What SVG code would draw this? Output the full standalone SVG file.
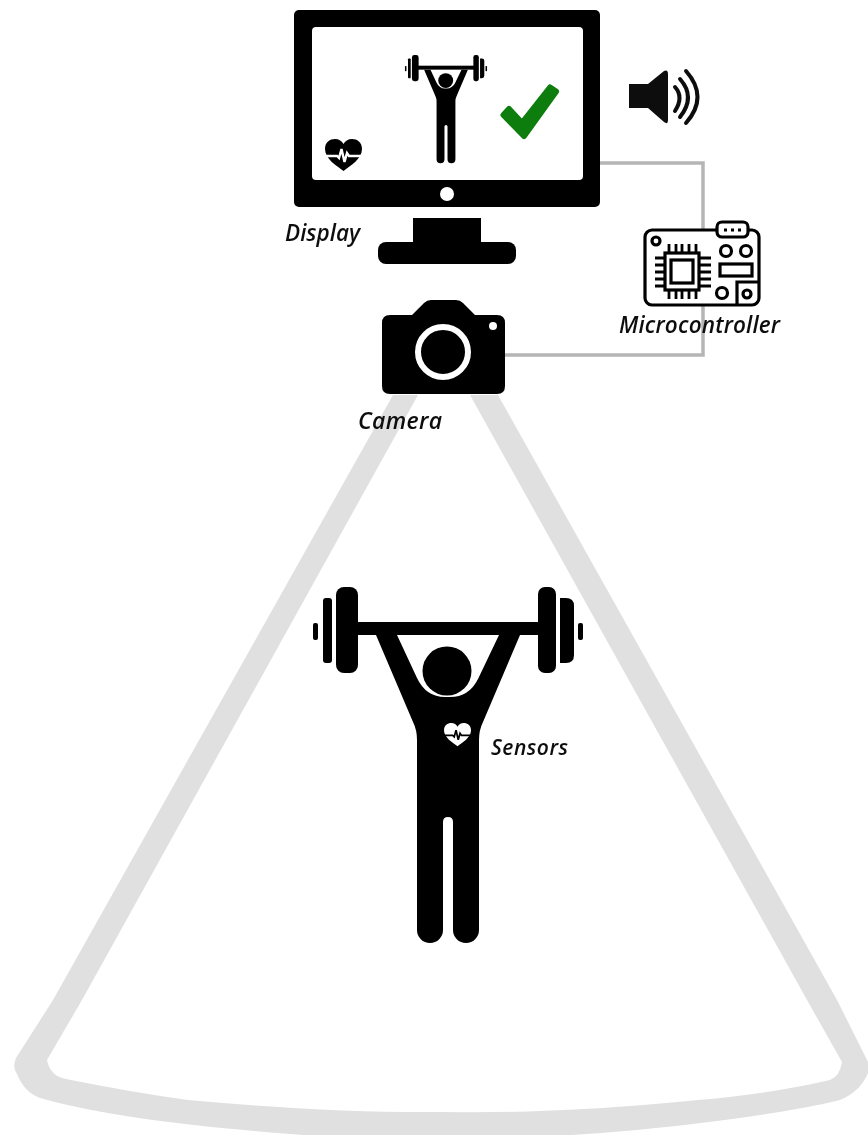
<svg xmlns="http://www.w3.org/2000/svg" xmlns:xlink="http://www.w3.org/1999/xlink" width="868" height="1135" viewBox="0 0 868 1135">
<style>
.k{fill:#000}
.w{fill:#fff}
.lbl{font-family:"Open Sans","Lato","Liberation Sans",sans-serif;font-style:italic;font-weight:600;fill:#111}
.conn{fill:none;stroke:#b5b5b5;stroke-width:3.5}
.pcb{fill:none;stroke:#000;stroke-width:3.2}
.pin{fill:none;stroke:#000;stroke-width:2.8}
.arc{fill:none;stroke:#111;stroke-width:4;stroke-linecap:round}
</style>
<defs>
<filter id="soft" x="0" y="0" width="868" height="1135" filterUnits="userSpaceOnUse"><feGaussianBlur stdDeviation="0.7"/></filter>
<g id="lifter">
<rect class="k" x="336" y="587" width="22" height="86" rx="8"/>
<rect class="k" x="323" y="598" width="9" height="65" rx="3"/>
<rect class="k" x="313" y="623" width="5" height="17" rx="2"/>
<rect class="k" x="538" y="587" width="18" height="86" rx="7"/>
<path class="k" d="M560 598h6q8 0 8 8v49q0 8-8 8h-6z"/>
<rect class="k" x="578" y="623" width="5" height="17" rx="2"/>
<rect class="k" x="356" y="622" width="184" height="13"/>
<circle class="k" cx="447" cy="671" r="24.5"/>
<path class="k" d="M376 635H397L417 678Q426 697 445 697H450Q469 697 478 679L499 635H520L483 722Q479 730 479 740V930A13 13 0 0 1 453 930V822Q453 817 448 817T443 822V930A13 13 0 0 1 417 930V740Q417 730 413 722Z"/>
</g>
<path id="heart" d="M0 10C0 3 5 0 10 0C14 0 17 2 18.500 5C20 2 23 0 27 0C32 0 37 3 37 10C37 20 25 27 18.500 32C12 27 0 20 0 10Z"/>
<path id="ecg" d="M-1 17H12L14 19L16.500 10L19.500 23L22 14L24 17H38" fill="none" stroke-width="2.400"/>
</defs>
<rect width="868" height="1135" fill="#fff"/>
<g filter="url(#soft)">
<g id="view-cone">
<path fill="#e0e0e0" fill-rule="evenodd" d="M393 395L53 1000L16 1058Q12 1068 17 1074Q24 1092 40 1098Q110 1118 244 1130Q332 1139 434 1139Q540 1139 637 1130Q775 1116 840 1100Q860 1092 868 1073V1062L837 1000L498 395ZM418 395H470L807 1000L842 1062Q840 1076 830 1080Q770 1094 698 1100Q560 1114 443 1112Q330 1113 188 1100Q130 1092 66 1079Q50 1076 47 1060L82 1000Z"/>
</g>
<g id="connectors">
<path class="conn" d="M598 163H703V355H503"/>
</g>
<g id="monitor">
<rect class="k" x="294" y="10" width="306" height="197" rx="5"/>
<rect class="w" x="312" y="27" width="271" height="153" rx="4"/>
<circle class="w" cx="447" cy="194" r="7"/>
<rect class="k" x="413" y="218" width="68" height="26"/>
<rect class="k" x="378" y="242" width="138" height="22" rx="8"/>
<use href="#lifter" transform="translate(309.800 -123.400) scale(.304)"/>
<path d="M503.500 115L509 109L522 123L550 87.500L556 91.500L524 136Z" fill="#0b7d0b" stroke="#0b7d0b" stroke-width="6" stroke-linejoin="round"/>
<use href="#heart" class="k" transform="translate(325 139)"/>
<use href="#ecg" stroke="#fff" transform="translate(325 139)"/>
</g>
<g id="speaker">
<path fill="#111" d="M629 84H648L664 71Q668 69 668 74V120Q668 125 664 122L648 108H629Z"/>
<path class="arc" d="M675 87Q684 97 675 111"/>
<path class="arc" d="M680 79Q696 97 680 117"/>
<path class="arc" d="M686 71Q709 97 686 123"/>
</g>
<g id="microcontroller">
<rect x="645" y="230" width="114" height="75" rx="7" fill="#fff" stroke="#000" stroke-width="3.200"/>
<rect x="717" y="222" width="31" height="15" rx="5" fill="#fff" stroke="#000" stroke-width="3.200"/>
<path stroke="#000" stroke-width="2.800" stroke-dasharray="3 4" d="M724 230H742" fill="none"/>
<circle class="pcb" cx="656" cy="241" r="4"/>
<rect class="pcb" x="665" y="253" width="34" height="37"/>
<rect class="pcb" x="671" y="260" width="22" height="23"/>
<path class="pin" d="M669 244v9M676 244v9M682 244v9M689 244v9M696 244v9M669 290v9M676 290v9M682 290v9M689 290v9M696 290v9M655 258h10M655 265h10M655 272h10M655 279h10M655 286h10M699 258h12M699 265h12M699 272h12M699 279h12M699 286h12"/>
<circle class="pcb" cx="726" cy="251" r="5.500"/>
<circle class="pcb" cx="746" cy="251" r="5.500"/>
<rect class="pcb" x="720" y="264" width="32" height="12"/>
<circle class="pcb" cx="722" cy="293" r="5.500"/>
<path class="pcb" d="M760 282H737V305"/>
<circle class="pcb" cx="747" cy="294" r="4"/>
</g>
<g id="camera">
<path class="k" d="M390 315H412L424 303Q427 300 431 300H456Q460 300 463 303L475 315H497Q505 315 505 323V386Q505 394 497 394H390Q382 394 382 386V323Q382 315 390 315Z"/>
<circle cx="443" cy="352" r="25" fill="none" stroke="#fff" stroke-width="6"/>
<circle class="w" cx="493" cy="326" r="4"/>
</g>
<g id="athlete">
<use href="#lifter"/>
<use href="#heart" class="w" transform="translate(444 723) scale(.73)"/>
<use href="#ecg" stroke="#000" transform="translate(444 723) scale(.73)"/>
</g>
<g id="labels">
<text class="lbl" x="285" y="241" font-size="22.500" textLength="75">Display</text>
<text class="lbl" x="358" y="429" font-size="23" textLength="84">Camera</text>
<text class="lbl" x="619" y="333" font-size="22.500" textLength="161">Microcontroller</text>
<text class="lbl" x="491" y="755" font-size="21" textLength="77">Sensors</text>
</g>
</g>
</svg>
